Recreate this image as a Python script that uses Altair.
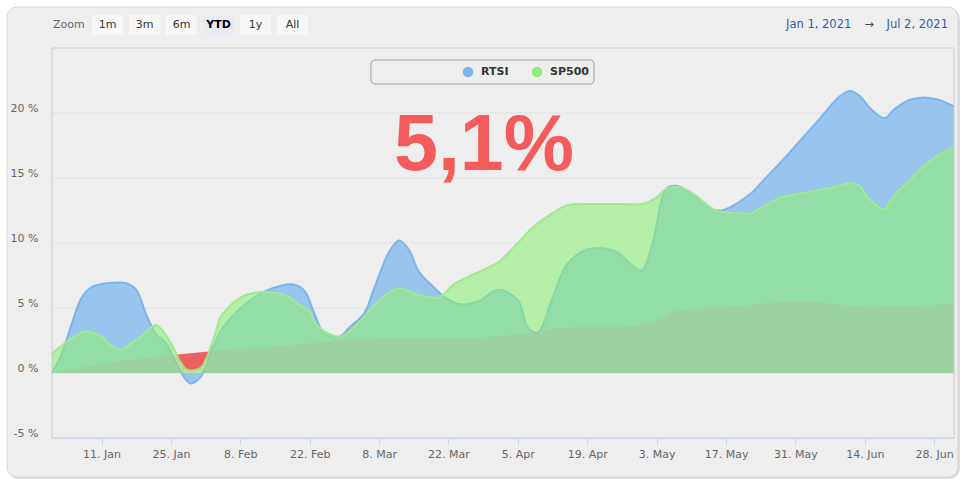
import altair as alt
import pandas as pd

# ---------------- data ----------------
rtsi_dates = ["2021-01-01", "2021-01-03", "2021-01-05", "2021-01-07", "2021-01-09", "2021-01-12",
              "2021-01-16", "2021-01-18", "2021-01-20", "2021-01-22", "2021-01-24", "2021-01-26",
              "2021-01-28", "2021-01-29", "2021-01-31", "2021-02-02", "2021-02-04", "2021-02-07",
              "2021-02-10", "2021-02-13", "2021-02-16", "2021-02-19", "2021-02-21", "2021-02-23",
              "2021-02-25", "2021-02-28", "2021-03-02", "2021-03-05", "2021-03-07", "2021-03-10",
              "2021-03-12", "2021-03-14", "2021-03-16", "2021-03-19", "2021-03-21", "2021-03-24",
              "2021-03-28", "2021-04-01", "2021-04-05", "2021-04-07", "2021-04-09", "2021-04-12",
              "2021-04-15", "2021-04-19", "2021-04-22", "2021-04-25", "2021-04-28", "2021-04-30",
              "2021-05-02", "2021-05-05", "2021-05-07", "2021-05-10", "2021-05-13", "2021-05-16",
              "2021-05-19", "2021-05-22", "2021-05-25", "2021-05-29", "2021-06-01", "2021-06-05",
              "2021-06-09", "2021-06-11", "2021-06-13", "2021-06-15", "2021-06-18", "2021-06-20",
              "2021-06-23", "2021-06-26", "2021-06-29", "2021-07-02"]
rtsi_values = [0.0, 1.5, 3.8, 5.8, 6.6, 6.9,
               6.9, 6.4, 4.5, 3.0, 2.3, 0.8,
               -0.5, -0.8, -0.3, 1.5, 3.2, 4.6,
               5.6, 6.3, 6.7, 6.8, 6.3, 4.5,
               3.0, 2.8, 3.5, 4.6, 6.5, 9.3,
               10.2, 9.5, 7.8, 6.6, 5.9, 5.3,
               5.5, 6.4, 5.6, 3.5, 3.1, 5.8,
               8.4, 9.5, 9.6, 9.3, 8.3, 7.9,
               9.7, 14.2, 14.4, 13.8, 12.8, 12.5,
               13.0, 13.8, 15.0, 16.6, 17.9, 19.6,
               21.3, 21.7, 21.3, 20.4, 19.6, 20.3,
               21.0, 21.2, 21.0, 20.5]

sp500_dates = ["2021-01-01", "2021-01-04", "2021-01-07", "2021-01-08", "2021-01-11", "2021-01-13",
               "2021-01-15", "2021-01-17", "2021-01-19", "2021-01-21", "2021-01-22", "2021-01-23",
               "2021-01-25", "2021-01-27", "2021-01-28", "2021-01-29", "2021-01-31", "2021-02-01",
               "2021-02-03", "2021-02-04", "2021-02-06", "2021-02-08", "2021-02-11", "2021-02-14",
               "2021-02-16", "2021-02-18", "2021-02-20", "2021-02-22", "2021-02-23", "2021-02-25",
               "2021-02-28", "2021-03-02", "2021-03-04", "2021-03-08", "2021-03-12", "2021-03-16",
               "2021-03-20", "2021-03-23", "2021-03-26", "2021-03-30", "2021-04-01", "2021-04-05",
               "2021-04-08", "2021-04-12", "2021-04-15", "2021-04-19", "2021-04-22", "2021-04-26",
               "2021-04-30", "2021-05-03", "2021-05-05", "2021-05-07", "2021-05-10", "2021-05-12",
               "2021-05-15", "2021-05-19", "2021-05-22", "2021-05-25", "2021-05-28", "2021-06-01",
               "2021-06-08", "2021-06-11", "2021-06-13", "2021-06-14", "2021-06-16", "2021-06-18",
               "2021-06-19", "2021-06-21", "2021-06-23", "2021-06-25", "2021-06-29", "2021-07-02"]
sp500_values = [1.5, 2.4, 3.1, 3.2, 2.8, 2.1,
                1.8, 2.3, 2.8, 3.5, 3.7, 3.4,
                2.3, 0.8, 0.3, 0.2, 0.4, 1.0,
                3.1, 4.3, 5.2, 5.8, 6.2, 6.2,
                6.1, 5.8, 5.2, 4.8, 3.9, 3.2,
                2.8, 3.2, 3.9, 5.6, 6.5, 6.0,
                5.8, 6.8, 7.4, 8.1, 8.5, 10.0,
                11.2, 12.3, 12.9, 13.0, 13.0, 13.0,
                13.0, 13.5, 14.2, 14.3, 13.9, 13.3,
                12.5, 12.3, 12.3, 12.9, 13.5, 13.8,
                14.3, 14.6, 14.4, 13.8, 13.0, 12.6,
                13.2, 14.1, 14.8, 15.6, 16.8, 17.4]

infl_dates = ["2021-01-01", "2021-01-11", "2021-01-21", "2021-01-31", "2021-02-10", "2021-02-20",
              "2021-02-28", "2021-03-12", "2021-03-22", "2021-04-01", "2021-04-15", "2021-04-30",
              "2021-05-04", "2021-05-06", "2021-05-18", "2021-06-01", "2021-06-14", "2021-07-02"]
infl_values = [0.0, 0.7, 1.2, 1.6, 1.9, 2.2,
               2.5, 2.7, 2.7, 2.8, 3.5, 3.7,
               4.3, 4.7, 5.1, 5.5, 5.1, 5.3]

y_ticks = [-5, 0, 5, 10, 15, 20]
grid_values = [0, 5, 10, 15, 20]
x_ticks = ["2021-01-11", "2021-01-25", "2021-02-08", "2021-02-22", "2021-03-08", "2021-03-22",
           "2021-04-05", "2021-04-19", "2021-05-03", "2021-05-17", "2021-05-31", "2021-06-14",
           "2021-06-28"]
zoom_buttons = ["1m", "3m", "6m", "YTD", "1y", "All"]
selected_button = "YTD"
series_names = ["RTSI", "SP500"]
headline = "5,1%"

# ---------------- layout ----------------
OX, OY = 52, 48          # plot origin in page pixels
W, H = 902, 390          # plot size
FONT = "DejaVu Sans"
BLUE, GREEN, RED = "#7cb5ec", "#90ed7d", "#f45b5b"
BG = "#eeeeee"
CURVE = "catmull-rom"


def dt(s):
    y, m, d = (int(p) for p in s.split("-"))
    return alt.DateTime(year=y, month=m, date=d)


xscale = alt.Scale(domain=[dt("2021-01-01"), dt("2021-07-02")], nice=False)
yscale = alt.Scale(domain=[-5, 25], nice=False, zero=False)
xaxis = alt.Axis(values=[dt(s) for s in x_ticks], format="%-d. %b", title=None, grid=False,
                 tickSize=7, tickColor="#ccd6eb", domainColor="#ccd6eb", labelColor="#666666",
                 labelFont=FONT, labelFontSize=11, labelPadding=3, labelFlush=False,
                 labelOverlap=False, zindex=1)
yaxis = alt.Axis(values=y_ticks, labelExpr="datum.value + ' %'", title=None, grid=False,
                 ticks=False, domain=False, labelPadding=14, labelOffset=-5,
                 labelColor="#666666", labelFont=FONT, labelFontSize=11, zindex=1)

one = pd.DataFrame({"k": [0]})


def rect(x1, x2, y1, y2, **kw):
    return alt.Chart(one).mark_rect(**kw).encode(
        x=alt.value(x1 - OX), x2=alt.value(x2 - OX), y=alt.value(y1 - OY), y2=alt.value(y2 - OY))


def text(s, x, y, **kw):
    return alt.Chart(one).mark_text(text=s, baseline="middle", **kw).encode(
        x=alt.value(x - OX), y=alt.value(y - OY))


def frame(dates, values):
    return pd.DataFrame({"date": pd.to_datetime(dates), "v": values})


rtsi = frame(rtsi_dates, rtsi_values)
sp = frame(sp500_dates, sp500_values)
infl = frame(infl_dates, infl_values)


def area(df, **kw):
    return alt.Chart(df).mark_area(interpolate=CURVE, **kw).encode(
        x=alt.X("date:T", scale=xscale, axis=xaxis),
        y=alt.Y("v:Q", scale=yscale, axis=yaxis),
        y2=alt.datum(0),
    )


layers = []
# card with shadow
layers.append(rect(8, 960, 9, 479, fill="#c4c4c4", opacity=0.6, cornerRadius=11))
layers.append(rect(7, 958, 7, 477, fill=BG, stroke="#d6d6d6", strokeWidth=1, cornerRadius=10))
# grid lines
layers.append(alt.Chart(pd.DataFrame({"g": grid_values})).mark_rule(color="#e2e2e2", strokeWidth=1).encode(
    y=alt.Y("g:Q", scale=yscale, axis=yaxis), x=alt.value(0), x2=alt.value(W)))
# inflation (red where above both indices)
layers.append(area(infl, color="#ef6262", opacity=1))
# masks so that red only shows where inflation exceeds the indices
layers.append(area(sp, color=BG, opacity=1))
layers.append(area(rtsi, color=BG, opacity=1))
# the two series
layers.append(area(rtsi, color=BLUE, opacity=0.75, line={"color": BLUE, "strokeWidth": 2}))
layers.append(area(sp, color=GREEN, opacity=0.62, line={"color": "#a2e890", "strokeWidth": 2}))
# inflation tint on top
layers.append(area(infl, color=RED, opacity=0.09))
# plot border
layers.append(rect(OX, OX + W, OY, OY + H, fill="transparent", stroke="#cccccc", strokeWidth=1))

# headline
layers.append(alt.Chart(one).mark_text(text=headline, font="Liberation Sans", fontWeight="bold",
                                       fontSize=79, color=RED, align="center", baseline="alphabetic").encode(
    x=alt.value(484 - OX), y=alt.value(170 - OY)))

# legend box
layers.append(rect(371, 594, 60, 84, fill="transparent", stroke="#999999", strokeWidth=1, cornerRadius=4))
for name, cx, col in zip(series_names, [468, 537], [BLUE, GREEN]):
    layers.append(alt.Chart(one).mark_point(shape="circle", filled=True, size=110, color=col, opacity=1).encode(
        x=alt.value(cx - OX), y=alt.value(72 - OY)))
    layers.append(text(name, cx + 13, 72, align="left", font=FONT, fontSize=11, fontWeight="bold",
                       color="#333333"))

# zoom buttons
layers.append(text("Zoom", 53, 25, align="left", font=FONT, fontSize=11, color="#666666"))
for i, b in enumerate(zoom_buttons):
    left = 92 + i * 37
    sel = b == selected_button
    layers.append(rect(left, left + 31, 15, 35, fill="#e6ebf5" if sel else "#f7f7f7", cornerRadius=2))
    layers.append(text(b, left + 15.5, 25, align="center", font=FONT, fontSize=11,
                       fontWeight="bold" if sel else "normal", color="#000000" if sel else "#333333"))

# date range
layers.append(text("Jan 1, 2021", 786, 25, align="left", font=FONT, fontSize=11.5, color="#335cad"))
layers.append(text("\u2192", 869, 25, align="center", font=FONT, fontSize=11, color="#444444"))
layers.append(text("Jul 2, 2021", 948, 25, align="right", font=FONT, fontSize=11.5, color="#335cad"))

chart = alt.layer(*layers).properties(
    width=W, height=H,
    autosize=alt.AutoSizeParams(type="none"),
    padding={"left": OX, "top": OY, "right": 965 - OX - W, "bottom": 483 - OY - H},
    background="#ffffff",
).configure_view(stroke=None)

chart.save("out.html", embed_options={"renderer": "svg", "actions": False})
